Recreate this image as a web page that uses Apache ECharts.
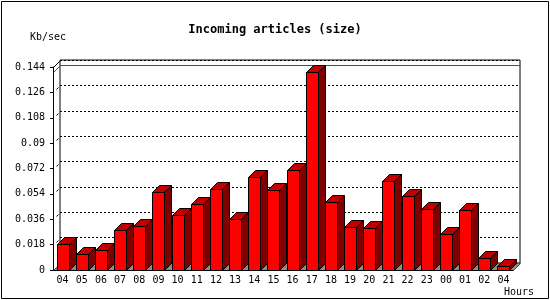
<!DOCTYPE html>
<html>
<head>
<meta charset="utf-8">
<script src="https://cdn.jsdelivr.net/npm/echarts@6/dist/echarts.min.js"></script>
<style>
  html, body { margin: 0; padding: 0; background: #fff; }
  #chart { width: 550px; height: 300px; }
</style>
</head>
<body>
<div id="chart"></div>
<script>
const hours = ['04', '05', '06', '07', '08', '09', '10', '11', '12', '13', '14', '15',
  '16', '17', '18', '19', '20', '21', '22', '23', '00', '01', '02', '04'];
const sizeKb = [0.0182, 0.0111, 0.0142, 0.0284, 0.0312, 0.0553, 0.0388, 0.0466, 0.0572, 0.0359,
  0.0660, 0.0565, 0.0709, 0.1402, 0.0480, 0.0303, 0.0296, 0.0629, 0.0523, 0.0430,
  0.0253, 0.0423, 0.0083, 0.0031];
const yTickLabels = ['0', '0.018', '0.036', '0.054', '0.072', '0.09', '0.108', '0.126', '0.144'];
const yStep = 0.018;

const D = 7;          // 3d depth, px
const HALF = 6;       // half width of bar front
const mono = 'DejaVu Sans Mono';

const chart = echarts.init(document.getElementById('chart'));

const line = (pts, color, width) => ({
  type: 'polyline',
  shape: { points: pts },
  style: { stroke: color || '#000', lineWidth: width || 1, fill: null }
});

const renderWalls = (params, api) => {
  const cs = params.coordSys;
  const x = cs.x + 0.5, y = cs.y + 0.5, w = cs.width, b = cs.y + cs.height + 0.5;
  const kids = [];
  // floor
  kids.push({
    type: 'polygon',
    shape: { points: [[x, b], [x + w, b], [x + w + D, b - D], [x + D, b - D]] },
    style: { fill: '#8c8c8c', stroke: '#555', lineWidth: 1 }
  });
  // left wall top edge
  kids.push(line([[x, y], [x + D, y - D]]));
  // little marks on the left wall
  yTickLabels.forEach((t, i) => {
    if (i === 0 || i === yTickLabels.length - 1) return;
    const ty = Math.round(api.coord([0, i * yStep])[1]) + 0.5;
    kids.push(line([[x + 3, ty - 3], [x + 5, ty - 5]]));
  });
  return { type: 'group', children: kids };
};

// red line at the highest value, drawn on the left and back walls
const renderMax = (params, api) => {
  const cs = params.coordSys;
  const x = cs.x + 0.5, w = cs.width;
  const ry = Math.round(api.coord([0, api.value(1)])[1]) + 0.5;
  return line([[x, ry], [x + D, ry - D], [x + w + D, ry - D]], '#ff0000', 1);
};

const renderBar = (params, api) => {
  const top = api.coord([api.value(0), api.value(1)]);
  const base = api.coord([api.value(0), 0]);
  const cx = Math.round(top[0]);
  const x0 = cx - HALF + 0.5, x1 = cx + HALF + 0.5;
  const y0 = Math.round(top[1]) + 0.5, y1 = Math.round(base[1]) + 0.5;
  const edge = { stroke: '#000', lineWidth: 1 };
  return {
    type: 'group',
    children: [
      { type: 'polygon', shape: { points: [[x1, y0], [x1 + D, y0 - D], [x1 + D, y1 - D], [x1, y1]] },
        style: Object.assign({ fill: '#800000' }, edge) },
      { type: 'polygon', shape: { points: [[x0, y0], [x0 + D, y0 - D], [x1 + D, y0 - D], [x1, y0]] },
        style: Object.assign({ fill: '#c00000' }, edge) },
      { type: 'rect', shape: { x: x0, y: y0, width: x1 - x0, height: y1 - y0 },
        style: Object.assign({ fill: '#ff0000' }, edge) }
    ]
  };
};

const option = {
  animation: false,
  backgroundColor: '#fff',
  title: {
    text: 'Incoming articles (size)',
    left: 'center',
    top: 19,
    textStyle: { fontFamily: mono, fontWeight: 'bold', fontSize: 12, color: '#000' }
  },
  grid: [
    { left: 53, right: 37, top: 67, bottom: 30 },
    { left: 60, right: 30, top: 60, bottom: 37, show: true,
      borderColor: '#000', borderWidth: 1, backgroundColor: 'transparent' }
  ],
  xAxis: [
    {
      gridIndex: 0,
      type: 'category',
      data: hours,
      axisLine: { lineStyle: { color: '#000', width: 1 } },
      axisTick: { interval: 0, length: 4, lineStyle: { color: '#000' } },
      axisLabel: { interval: 0, margin: 5, fontFamily: mono, fontSize: 10, color: '#000' },
      z: 5
    },
    { gridIndex: 1, type: 'category', data: hours, show: false }
  ],
  yAxis: [
    {
      gridIndex: 0,
      type: 'value',
      min: 0,
      max: 0.144,
      interval: yStep,
      axisLine: { show: true, lineStyle: { color: '#000', width: 1 } },
      axisTick: { show: true, length: 3, lineStyle: { color: '#000' } },
      axisLabel: {
        margin: 8, fontFamily: mono, fontSize: 10, color: '#000',
        formatter: v => yTickLabels[Math.round(v / yStep)]
      },
      splitLine: { show: false },
      z: 5
    },
    {
      gridIndex: 1,
      type: 'value',
      min: 0,
      max: 0.144,
      interval: yStep,
      axisLine: { show: false },
      axisTick: { show: false },
      axisLabel: { show: false },
      splitLine: { show: true, lineStyle: { color: '#000', type: [2, 2], width: 1 } }
    }
  ],
  series: [
    {
      type: 'custom',
      xAxisIndex: 0,
      yAxisIndex: 0,
      renderItem: renderWalls,
      data: [[0, 0]],
      silent: true,
      clip: false,
      z: 1
    },
    {
      type: 'custom',
      xAxisIndex: 0,
      yAxisIndex: 0,
      renderItem: renderMax,
      data: [[0, Math.max(...sizeKb)]],
      silent: true,
      clip: false,
      z: 2
    },
    {
      type: 'custom',
      xAxisIndex: 0,
      yAxisIndex: 0,
      renderItem: renderBar,
      data: sizeKb.map((v, i) => [i, v]),
      clip: false,
      z: 3
    }
  ],
  graphic: [
    { type: 'rect', shape: { x: 1.5, y: 1.5, width: 547, height: 297 },
      style: { fill: null, stroke: '#000', lineWidth: 1 }, z: 10 },
    { type: 'text', x: 30, y: 37,
      style: { text: 'Kb/sec', font: '10px "DejaVu Sans Mono"', fill: '#000', verticalAlign: 'middle' } },
    { type: 'text', x: 504, y: 292,
      style: { text: 'Hours', font: '10px "DejaVu Sans Mono"', fill: '#000', verticalAlign: 'middle' } }
  ]
};

chart.setOption(option);
</script>
</body>
</html>
